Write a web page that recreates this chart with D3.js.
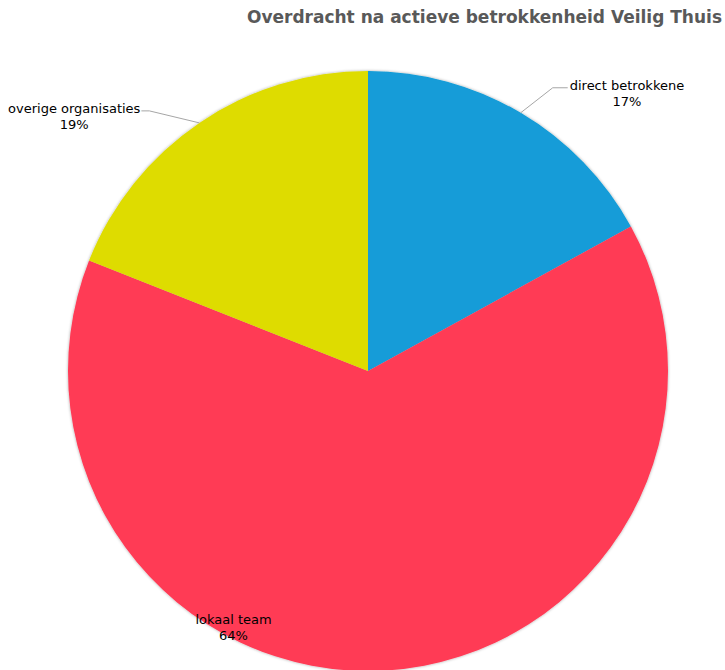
<!DOCTYPE html>
<html><head><meta charset="utf-8">
<script src="https://cdn.jsdelivr.net/npm/d3@7"></script>
<style>body{margin:0;background:#fff}svg{display:block}text{font-family:"DejaVu Sans",Verdana,sans-serif}</style>
</head><body><svg id="c" width="725" height="670"></svg>
<script>
const title = "Overdracht na actieve betrokkenheid Veilig Thuis";
const categories = ["direct betrokkene", "lokaal team", "overige organisaties"];
const values = [17, 64, 19];
const colors = ["#129CD8", "#FF3A55", "#DEDC00"];

const svg = d3.select("#c");
const cx = 368, cy = 371, R = 300;

const defs = svg.append("defs");
const f = defs.append("filter").attr("id","sh").attr("x","-10%").attr("y","-10%").attr("width","120%").attr("height","120%");
f.append("feDropShadow").attr("dx",0).attr("dy",0).attr("stdDeviation",1.5).attr("flood-color","#000").attr("flood-opacity",0.35);

svg.append("text").attr("x",722).attr("y",23).attr("text-anchor","end")
  .attr("font-size",17).attr("font-weight","bold").attr("fill","#595959").text(title);

const pie = d3.pie().sort(null).value(d=>d)(values);
const arc = d3.arc().innerRadius(0).outerRadius(R);
const g = svg.append("g").attr("transform",`translate(${cx},${cy})`);
g.append("g").attr("filter","url(#sh)").selectAll("path").data(pie).join("path")
  .attr("d",arc).attr("fill",(d,i)=>colors[i]);

const total = d3.sum(values);
const pct = v => Math.round(v/total*100) + "%";
function pt(a, r){ return [r*Math.sin(a), -r*Math.cos(a)]; }
const FS = 13;

pie.forEach((d,i)=>{
  const mid = (d.startAngle+d.endAngle)/2;
  const edge = pt(mid, R);
  if (i === 1) {
    const p = pt(mid + 0.56, R*0.94);
    const t = g.append("text").attr("text-anchor","middle").attr("font-size",FS).attr("fill","#000");
    t.append("tspan").attr("x",p[0]).attr("y",p[1]+5).text(categories[i]);
    t.append("tspan").attr("x",p[0]).attr("y",p[1]+21).text(pct(values[i]));
    return;
  }
  const right = edge[0] > 0;
  const elbow = [edge[0] + (right ? 32 : -50), edge[1] - (right ? 25 : 12)];
  const end = [elbow[0] + (right ? 15 : -8), elbow[1]];
  g.append("polyline").attr("points",[edge,elbow,end].map(p=>p.join(",")).join(" "))
    .attr("fill","none").attr("stroke","#A6A6A6").attr("stroke-width",1);
  const t1 = g.append("text").attr("font-size",FS).attr("fill","#000")
    .attr("text-anchor", right ? "start" : "end")
    .attr("x", right ? end[0] + 2 : end[0] - 1).attr("y", end[1] + 2).text(categories[i]);
  const w = t1.node().getComputedTextLength();
  const tx = right ? end[0] + 2 + w/2 : end[0] - 1 - w/2;
  g.append("text").attr("font-size",FS).attr("fill","#000").attr("text-anchor","middle")
    .attr("x",tx).attr("y",end[1]+18).text(pct(values[i]));
});
</script></body></html>
